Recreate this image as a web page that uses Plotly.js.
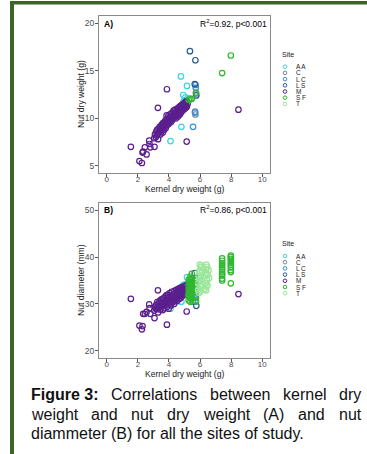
<!DOCTYPE html>
<html><head><meta charset="utf-8">
<script src="https://cdn.plot.ly/plotly-3.0.1.min.js"></script>
<style>html,body{margin:0;padding:0;background:#fff;}#chart{width:367px;height:454px;}</style>
</head><body><div id="chart"></div>
<script>
// ---------- data ----------
const sites = ['A A','C','L C','L S','M','S F','T'];
const siteColors = ['#3fd3e3','#6a8c9c','#3a8ee0','#2b5b8a','#5b1f8e','#2eb82e','#9ae69a'];

// M (kernel weight, nut weight, nut diameter)
const mKernel = [1.55,2.10,2.26,2.30,2.34,2.45,2.56,2.73,2.75,2.80,3.07,3.29,3.87,5.14,8.47,
 3.05,3.10,3.15,3.18,3.22,3.25,3.28,3.30,3.33,3.36,3.40,3.42,3.45,3.48,3.50,3.53,3.55,3.58,3.60,3.62,
 3.65,3.68,3.70,3.72,3.75,3.78,3.80,3.83,3.85,3.88,3.90,3.93,3.95,3.98,4.00,4.03,4.05,4.08,4.10,4.13,
 4.15,4.18,4.20,4.23,4.25,4.28,4.30,4.33,4.35,4.38,4.40,4.43,4.45,4.48,4.50,4.53,4.55,4.58,4.60,4.63,
 4.65,4.68,4.70,4.73,4.75,4.78,4.80,4.83,4.85,4.88,4.90,4.93,4.95,4.98,5.00,5.03,5.05,5.08,5.10,5.13,5.15,5.20];
const mWeight = [7.0,5.5,5.3,6.4,6.5,6.95,6.2,7.65,7.3,6.95,7.0,11.1,13.05,7.55,10.9,
 7.9,8.3,8.0,8.6,8.2,8.8,8.4,7.8,8.9,8.5,9.1,8.7,8.3,9.0,8.6,9.3,8.9,9.2,8.5,9.5,
 9.0,9.4,8.8,9.6,9.2,9.8,9.0,9.5,10.3,9.3,9.9,9.6,10.2,9.4,10.0,9.7,10.4,9.9,10.1,9.6,
 10.5,10.2,9.8,10.6,10.0,10.3,10.8,10.1,10.5,10.2,10.9,10.4,10.0,10.7,10.3,11.0,10.6,10.2,11.1,10.5,
 10.8,11.2,10.4,10.9,11.3,10.6,11.0,11.4,10.8,11.1,11.5,10.9,11.2,11.6,11.0,11.3,11.7,11.1,11.4,11.8,11.2,11.5];
const mDiam = [31.1,25.4,24.6,25.3,27.9,27.9,28.3,29.9,29.1,27.9,27.0,32.9,25.6,28.4,32.1,
 28.6,29.4,29.0,29.8,28.9,30.4,29.5,28.2,30.1,29.2,30.6,29.7,28.8,30.9,29.4,31.0,30.2,29.6,28.7,30.8,
 29.9,31.3,29.1,30.5,29.8,31.6,30.0,30.7,31.9,29.4,31.2,30.3,32.0,29.0,31.4,30.6,32.3,31.0,30.2,29.7,
 31.8,32.6,30.9,31.5,30.4,32.1,31.2,30.0,32.8,31.7,30.8,32.4,31.1,33.0,30.6,32.0,31.4,32.7,33.2,31.0,
 32.2,31.8,33.4,32.5,31.3,33.0,32.1,33.6,31.7,32.8,33.3,32.4,31.9,33.8,32.6,33.1,32.2,33.5,32.9,34.0,33.2,32.7];

const aaKernel = [4.77,5.16,4.92,4.80,4.10,5.30,4.95,5.05];
const aaWeight = [14.4,13.4,12.45,9.1,7.6,12.1,11.8,12.2];
const aaDiam   = [33.5,35.7,34.0,30.5,29.0,34.5,33.0,34.2];

const cKernel = [5.68,5.70,5.74];
const cWeight = [10.7,10.4,12.6];
const cDiam   = [31.5,30.5,33.0];

const lcKernel = [5.72,5.72,5.55,5.68];
const lcWeight = [13.5,13.2,9.1,10.6];
const lcDiam   = [35.5,35.0,30.5,32.0];

const lsKernel = [5.35,5.70,5.66,5.76];
const lsWeight = [17.05,16.1,13.6,12.4];
const lsDiam   = [34.0,35.0,36.6,29.6];

// S F: nut weight panel (tree means) and nut diameter panel (individual nuts)
const sfKernelA = [5.27,5.38,5.47,5.74,7.42,7.98];
const sfWeightA = [11.95,12.0,12.05,12.7,14.75,16.6];
const sfKernelB = [5.27,5.27,5.27,5.27,5.27,5.27,5.27,5.27,
 5.38,5.38,5.38,5.38,5.38,5.38,5.38,5.38,
 5.47,5.47,5.47,5.47,5.47,5.47,5.47,5.47,
 5.74,5.74,5.74,5.74,5.74,5.74,
 7.42,7.42,7.42,7.42,7.42,7.42,7.42,7.42,7.42,7.42,7.42,
 7.98,7.98,7.98,7.98,7.98,7.98,7.98,7.98,7.98,7.98];
const sfDiamB = [30.8,31.6,32.1,33.0,33.7,34.6,35.2,31.9,
 30.5,31.3,32.0,32.9,33.4,34.3,35.1,35.8,
 31.0,31.7,32.6,33.2,34.1,34.7,35.5,36.4,
 30.6,31.4,32.5,33.2,34.3,35.0,
 35.0,35.4,36.1,36.4,36.9,37.4,37.8,38.3,38.7,39.2,39.7,
 34.4,36.8,37.2,37.8,38.3,38.7,39.2,39.6,40.0,40.3];

const tKernel = [5.88,5.90,5.92,5.95,5.96,5.97,5.98,6.00,6.01,6.02,6.03,6.05,6.07,6.10,6.12,6.15,
 6.30,6.33,6.36,6.38,6.39,6.40,6.41,6.42,6.44,6.46,6.48,6.50,6.55,6.58];
const tDiam = [33.0,34.5,36.0,32.4,37.0,35.2,38.4,33.8,36.6,34.9,37.8,32.8,35.7,38.2,34.2,36.9,
 33.2,35.9,34.4,37.4,32.9,36.5,38.4,33.7,35.1,37.9,34.0,36.2,37.2,35.5];

const kernelTicks = [0,2,4,6,8,10];
const weightTicks = [5,10,15,20];
const diamTicks = [20,30,40,50];

// ---------- layout helpers ----------
const W = 367, H = 454;
const px = v => v / W;
const py = v => 1 - v / H;
const FONT = 'Arial, "Liberation Sans", sans-serif';

const groupsA = [
  {k: aaKernel, v: aaWeight}, {k: cKernel, v: cWeight}, {k: lcKernel, v: lcWeight}, {k: lsKernel, v: lsWeight},
  {k: mKernel, v: mWeight}, {k: sfKernelA, v: sfWeightA}, {k: [], v: []}
];
const groupsB = [
  {k: aaKernel, v: aaDiam}, {k: cKernel, v: cDiam}, {k: lcKernel, v: lcDiam}, {k: lsKernel, v: lsDiam},
  {k: mKernel, v: mDiam}, {k: sfKernelB, v: sfDiamB}, {k: tKernel, v: tDiam}
];

const traces = [];
[[groupsA, 'x', 'y'], [groupsB, 'x2', 'y2']].forEach(([gs, xa, ya]) => {
  gs.forEach((g, i) => {
    traces.push({type: 'scatter', mode: 'markers', x: g.k, y: g.v, xaxis: xa, yaxis: ya,
      marker: {symbol: 'circle-open', size: 5.5, color: siteColors[i], line: {width: 1.2, color: siteColors[i]}},
      showlegend: false, name: sites[i], hoverinfo: 'skip'});
  });
});
// legend keys (drawn on hidden category axes)
[['x3','y3'],['x4','y4']].forEach(([xa, ya]) => {
  traces.push({type: 'scatter', mode: 'markers', x: sites.map(() => 0), y: sites,
    xaxis: xa, yaxis: ya,
    marker: {symbol: 'circle-open', size: 3.6, color: siteColors, line: {width: 1, color: siteColors}},
    showlegend: false, hoverinfo: 'skip'});
});

function xAxis(anchor) {
  return {domain: [px(99), px(270)], range: [-0.5, 10.5], anchor: anchor,
    tickvals: kernelTicks, ticktext: kernelTicks.map(String),
    ticks: 'outside', ticklen: 3, tickwidth: 1, tickcolor: '#555',
    showline: true, mirror: true, linecolor: '#8a8a8a', linewidth: 1,
    showgrid: false, zeroline: false, ticklabelstandoff: -5,
    tickfont: {family: FONT, size: 8, color: '#4d4d4d'},
    automargin: false};
}
function yAxis(anchor, dom, range, ticks) {
  return {domain: dom, range: range, anchor: anchor,
    tickvals: ticks, ticktext: ticks.map(String),
    ticks: 'outside', ticklen: 3, tickwidth: 1, tickcolor: '#555',
    showline: true, mirror: true, linecolor: '#8a8a8a', linewidth: 1,
    showgrid: false, zeroline: false, ticklabelstandoff: -1,
    tickfont: {family: FONT, size: 8.5, color: '#4d4d4d'},
    automargin: false};
}
const ROW = 6.2;
function legendY(anchor, topPx) {
  const a = topPx - 8, b = topPx + 46;
  return {domain: [py(b), py(a)], anchor: anchor, type: 'category', categoryarray: sites,
    range: [(b - topPx) / ROW, (a - topPx) / ROW], visible: false, fixedrange: true};
}
function legendX(anchor) {
  return {domain: [px(280), px(340)], range: [-5, 55], anchor: anchor, visible: false, fixedrange: true};
}

const annFont = {family: FONT, size: 8.5, color: '#000'};
const titleFont = {family: FONT, size: 8.6, color: '#1a1a1a'};
const annotations = [
  {text: '<b>A)</b>', x: px(102), y: py(24), xref: 'paper', yref: 'paper', xanchor: 'left', yanchor: 'middle', showarrow: false, font: annFont},
  {text: 'R<sup>2</sup>=0.92, p&lt;0.001', x: px(269), y: py(23.5), xref: 'paper', yref: 'paper', xanchor: 'right', yanchor: 'middle', showarrow: false, font: annFont},
  {text: '<b>B)</b>', x: px(102), y: py(210), xref: 'paper', yref: 'paper', xanchor: 'left', yanchor: 'middle', showarrow: false, font: annFont},
  {text: 'R<sup>2</sup>=0.86, p&lt;0.001', x: px(269), y: py(209.5), xref: 'paper', yref: 'paper', xanchor: 'right', yanchor: 'middle', showarrow: false, font: annFont},
  // axis titles
  {text: 'Kernel dry weight (g)', x: px(184.5), y: py(188.5), xref: 'paper', yref: 'paper', xanchor: 'center', yanchor: 'middle', showarrow: false, borderpad: 0, font: titleFont},
  {text: 'Kernel dry weight (g)', x: px(184.5), y: py(373.5), xref: 'paper', yref: 'paper', xanchor: 'center', yanchor: 'middle', showarrow: false, borderpad: 0, font: titleFont},
  {text: 'Nut dry weight (g)', x: px(80.5), y: py(94.5), xref: 'paper', yref: 'paper', xanchor: 'center', yanchor: 'middle', textangle: -90, showarrow: false, borderpad: 0, font: titleFont},
  {text: 'Nut diameter (mm)', x: px(80.5), y: py(280.5), xref: 'paper', yref: 'paper', xanchor: 'center', yanchor: 'middle', textangle: -90, showarrow: false, borderpad: 0, font: titleFont},
  // legend titles
  {text: 'Site', x: px(280), y: py(55), xref: 'paper', yref: 'paper', xanchor: 'left', yanchor: 'middle', showarrow: false, font: {family: FONT, size: 7, color: '#1a1a1a'}},
  {text: 'Site', x: px(280), y: py(243), xref: 'paper', yref: 'paper', xanchor: 'left', yanchor: 'middle', showarrow: false, font: {family: FONT, size: 7, color: '#1a1a1a'}}
];
// legend labels
[66.7, 256].forEach(top => {
  sites.forEach((s, i) => {
    annotations.push({text: s, x: px(295), y: py(top + i * ROW), xref: 'paper', yref: 'paper',
      xanchor: 'left', yanchor: 'middle', showarrow: false, borderpad: 0,
      font: {family: FONT, size: 6.4, color: '#1a1a1a'}});
  });
});

// caption, justified
const capSize = 16;
const capLines = [
  {words: [['Figure 3:', true], ['Correlations', false], ['between', false], ['kernel', false], ['dry', false]], y: 394, justify: true},
  {words: [['weight', false], ['and', false], ['nut', false], ['dry', false], ['weight', false], ['(A)', false], ['and', false], ['nut', false]], y: 414, justify: true},
  {words: [['diammeter (B) for all the sites of study.', false]], y: 433, justify: false}
];
const cv = document.createElement('canvas').getContext('2d');
const capLeft = 31, capRight = 361;
capLines.forEach(line => {
  const widths = line.words.map(([w, b]) => { cv.font = (b ? 'bold ' : '') + capSize + 'px "Liberation Sans", Arial'; return cv.measureText(w).width; });
  const total = widths.reduce((s, v) => s + v, 0);
  const gap = line.justify ? (capRight - capLeft - total) / (line.words.length - 1) : 0;
  let x = capLeft;
  line.words.forEach(([w, b], i) => {
    annotations.push({text: b ? '<b>' + w + '</b>' : w, x: px(x - 1), y: py(line.y), xref: 'paper', yref: 'paper',
      xanchor: 'left', yanchor: 'middle', showarrow: false, borderpad: 0,
      font: {family: FONT, size: capSize, color: '#111'}});
    x += widths[i] + gap;
  });
});

const frameColor = '#3e6428';
const shapes = [
  {type: 'rect', xref: 'paper', yref: 'paper', x0: px(10), x1: px(14), y0: 0, y1: py(1), fillcolor: frameColor, line: {width: 0}},
  {type: 'rect', xref: 'paper', yref: 'paper', x0: px(10), x1: 1, y0: py(4.5), y1: py(1), fillcolor: frameColor, line: {width: 0}}
];

const layout = {
  width: W, height: H, margin: {l: 0, r: 0, t: 0, b: 0},
  paper_bgcolor: '#fff', plot_bgcolor: '#fff', showlegend: false,
  xaxis: xAxis('y'),
  yaxis: yAxis('x', [py(173), py(16)], [4.25, 20.75], weightTicks),
  xaxis2: xAxis('y2'),
  yaxis2: yAxis('x2', [py(358), py(203)], [18.5, 51.5], diamTicks),
  xaxis3: legendX('y3'), yaxis3: legendY('x3', 66.7),
  xaxis4: legendX('y4'), yaxis4: legendY('x4', 256),
  annotations: annotations, shapes: shapes
};

Plotly.newPlot('chart', traces, layout, {staticPlot: true, displayModeBar: false});
</script></body></html>
